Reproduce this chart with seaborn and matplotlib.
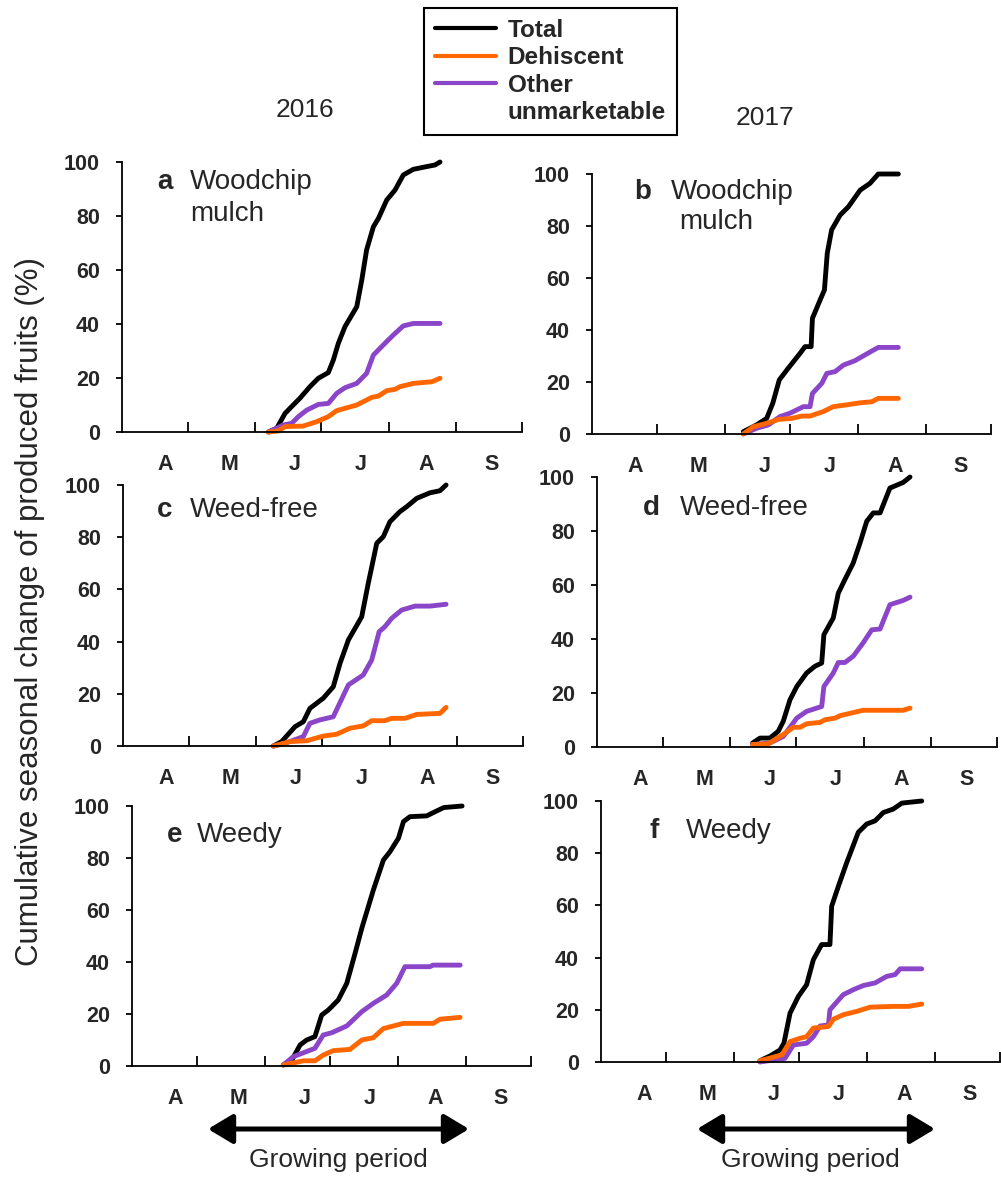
import matplotlib
matplotlib.use("Agg")
import matplotlib.pyplot as plt
from matplotlib.lines import Line2D
from matplotlib.patches import FancyArrowPatch
import pandas as pd
import seaborn as sns

# x = days since 1 April, y = cumulative % of produced fruits
MONTH_LABELS = ['A', 'M', 'J', 'J', 'A', 'S']
MONTH_LABEL_POS = [20, 49, 79, 109, 139, 169]
MONTH_EDGES = [30, 61, 91, 122, 153, 183]
Y_TICKS = [0, 20, 40, 60, 80, 100]
SERIES = ['Total', 'Dehiscent', 'Other unmarketable']
COLORS = {'Total': 'black', 'Dehiscent': '#FF6600', 'Other unmarketable': '#8B45C9'}
YEARS = ['2016', '2017']

# a: 2016 woodchip mulch
a_total = [(67, 0), (70.8, 1.4), (74.6, 6.9), (77.6, 9.4), (81.4, 12.5), (86, 16.8), (89.8, 19.9),
           (94.4, 22), (96.7, 26.7), (99, 32.9), (102, 39), (107.4, 46.4), (109.7, 56.3), (111.9, 67.4),
           (115, 76), (117.3, 79.1), (121.1, 85.9), (124.9, 89.6), (128.7, 95.2), (133.3, 97.3),
           (139.4, 98.3), (143.2, 98.9), (145.5, 100)]
a_dehis = [(67, 0), (71.5, 0.4), (74.6, 2), (82.9, 2.2), (89, 3.8), (94.4, 5.7), (98.2, 7.9),
           (107.4, 10), (114.2, 12.8), (117.3, 13.3), (121.1, 15.3), (124.9, 15.8), (127.2, 16.8),
           (133.3, 18), (141.7, 18.6), (145.5, 19.9)]
a_other = [(67, 0), (73.8, 2.6), (77.6, 3.2), (80.7, 5.7), (84.5, 8.1), (89.8, 10.2), (94.4, 10.6),
           (98.2, 14.3), (102, 16.4), (107.4, 18), (111.9, 21.7), (115, 28.5), (119.5, 32.2),
           (124.1, 35.9), (128.7, 39.3), (133.3, 40.2), (145.5, 40.2)]

# b: 2017 woodchip mulch
b_total = [(69.4, 0.9), (75.5, 3.5), (80.1, 6), (82.9, 11.8), (85.9, 20.8), (90, 25.3), (95.4, 31),
           (97.7, 33.6), (100.5, 33.6), (101.1, 44.5), (104.6, 51.5), (106.6, 55.4), (107.9, 69.5),
           (109.9, 78.5), (113.8, 84.2), (117.6, 87.4), (123, 93.8), (127.5, 96.4), (131.3, 100),
           (140.5, 100)]
b_dehis = [(69.4, 0), (74, 2.8), (80.1, 4.1), (85.5, 5.6), (91.6, 6), (96.2, 6.9), (100, 6.9),
           (106, 8.6), (110.6, 10.5), (116.7, 11.2), (123, 12), (128.3, 12.4), (131.3, 13.7),
           (140.5, 13.7)]
b_other = [(69.4, 0), (75.5, 2.2), (80.9, 3.5), (86.2, 6.7), (90.8, 8), (96.9, 10.5), (100, 10.5),
           (101.1, 15.6), (105.4, 19.5), (107.7, 23.3), (111.5, 24), (115.3, 26.5), (120.6, 28.2),
           (126, 30.8), (131.3, 33.3), (140.5, 33.3)]

# c: 2016 weed-free
c_total = [(68.8, 0), (72.6, 1.7), (78.7, 7.4), (82.5, 9.3), (85.5, 14.4), (91.6, 18.3), (96.2, 22.7),
           (99.3, 31.7), (103.1, 40.6), (109.2, 49.5), (112.2, 62.3), (116.1, 77.7), (119.1, 80.2),
           (122.1, 85.9), (126.7, 89.8), (129.8, 91.7), (134.4, 94.9), (140.4, 97), (145, 97.8),
           (147.8, 100)]
c_dehis = [(68.8, 0), (76.4, 1.7), (84, 2), (91.6, 3.8), (97.7, 4.5), (103.8, 6.8), (109.9, 7.7),
           (113.8, 9.7), (119.8, 9.7), (122.9, 10.6), (129, 10.6), (134.4, 12.1), (145, 12.5),
           (147.8, 14.8)]
c_other = [(68.8, 0), (73.3, 0.8), (82.5, 3.6), (85.5, 8.7), (90.1, 10), (96.2, 11.2), (103.1, 23.4),
           (109.9, 27.2), (113.8, 33), (117.2, 43.8), (119.8, 45.7), (122.9, 48.9), (127.5, 52.1),
           (133.6, 53.6), (140.4, 53.6), (147.8, 54.3)]

# d: 2017 weed-free
d_total = [(71.2, 1.5), (74.6, 3.3), (79.1, 3.3), (82.9, 5.8), (85.2, 9.5), (88.3, 17.5), (91.4, 22.4),
           (95.9, 27.4), (99.7, 29.9), (102.8, 31.1), (103.8, 41.6), (108.1, 47.8), (110.4, 57),
           (113.4, 62), (117.2, 68.1), (120.3, 75.5), (123.4, 83.6), (126.4, 86.7), (129.5, 86.7),
           (134, 95.9), (140.1, 98), (143.2, 100)]
d_dehis = [(71.2, 0.9), (78.4, 1.2), (85.2, 4.6), (89.8, 7.3), (92.9, 7.3), (95.9, 8.6), (102, 9.1),
           (104.3, 10.1), (108.9, 10.7), (111.2, 11.6), (121.7, 13.6), (140.1, 13.6), (143.2, 14.4)]
d_other = [(71.2, 0.9), (79.1, 1.5), (85.2, 3.9), (91.4, 10.7), (95.9, 13.2), (102.8, 15), (103.8, 22.4),
           (108.1, 27.4), (110.4, 31.3), (113.4, 31.3), (117.2, 33.6), (121.7, 38.5), (125.7, 43.4),
           (129.5, 43.7), (134, 52.7), (140.1, 54.3), (143.2, 55.5)]

# e: 2016 weedy
e_total = [(69.4, 0.4), (73.3, 2.3), (77.1, 8.1), (80.1, 10), (83.9, 11.3), (87, 19.6), (90, 21.5),
           (94.6, 25.4), (98.5, 31.8), (102.3, 43.3), (105.4, 53), (110.7, 67.7), (115.3, 79.2),
           (118.3, 82.4), (122.2, 87.6), (124.5, 94), (127.5, 95.9), (135.2, 96.2), (139, 97.8),
           (143, 99.4), (151.4, 100)]
e_dehis = [(69.4, 0.4), (78.6, 2), (83.9, 2), (87.7, 4.2), (92.3, 5.9), (100, 6.4), (105.4, 10),
           (110.7, 10.9), (115.3, 14.4), (124.5, 16.4), (138.2, 16.4), (141.3, 18), (150.5, 18.7)]
e_other = [(69.4, 0.4), (74, 3.6), (83.9, 6.8), (87.7, 11.9), (91.6, 12.8), (98.5, 15.4), (105.4, 20.9),
           (110.7, 24.1), (116.8, 27.3), (121.4, 31.8), (125.2, 38.2), (136.7, 38.2), (138, 38.8),
           (150.5, 38.8)]

# f: 2017 weedy
f_total = [(72.9, 0.5), (77.5, 2.3), (82.1, 4.6), (83.9, 7.2), (86.7, 18.7), (90.5, 25.1), (94.3, 29.6),
           (97.4, 39.2), (101.2, 45), (105, 45), (105.8, 59.7), (108.9, 67.4), (112.7, 76.4), (118, 88),
           (121.9, 91.2), (125.7, 92.4), (129.5, 95.6), (134, 96.9), (138, 99.2), (147.1, 100)]
f_dehis = [(72.9, 0.5), (82.9, 2.7), (86.7, 7.8), (91.3, 9.1), (94.3, 9.7), (97.4, 13), (104.3, 13.6),
           (106.6, 16.4), (111.1, 18.1), (117.3, 19.4), (123.4, 21), (134, 21.3), (141, 21.3),
           (147.1, 22.2)]
f_other = [(72.9, 0), (84.4, 1.4), (88.2, 6.5), (94.3, 7.2), (97.4, 9.7), (100.5, 13.8), (104.3, 14.2),
           (105, 20), (111.1, 25.8), (115.7, 27.7), (120.3, 29.3), (125.7, 30.3), (131, 32.8),
           (134.9, 33.5), (137.2, 35.7), (147.1, 35.7)]

panel_letters = ['a', 'b', 'c', 'd', 'e', 'f']
panel_names = ['Woodchip', 'Woodchip', 'Weed-free', 'Weed-free', 'Weedy', 'Weedy']
panel_data = [(a_total, a_dehis, a_other), (b_total, b_dehis, b_other),
              (c_total, c_dehis, c_other), (d_total, d_dehis, d_other),
              (e_total, e_dehis, e_other), (f_total, f_dehis, f_other)]

W, H = 1001, 1177
# axes rectangles in pixels: left, right, top(100%), bottom(0%)
rects = [(122, 522, 162, 432), (592, 991, 174, 434),
         (123, 523, 485, 746), (597, 997, 477, 747),
         (132, 531, 806, 1066), (601, 1000, 801, 1062)]
# label positions in pixels: letter centre x, name left x, y
label_pos = [(165, 190, 182), (643, 671, 192), (165, 190, 510),
             (651, 680, 508), (175, 197, 835), (654, 686, 831)]

sns.set_style("ticks")
plt.rcParams['font.family'] = ['Liberation Sans', 'DejaVu Sans']

fig = plt.figure(figsize=(W / 100, H / 100), dpi=100)


def fx(px):
    return px / W


def fy(py):
    return 1 - py / H


for i, (l, r, t, b) in enumerate(rects):
    ax = fig.add_axes([fx(l), fy(b), (r - l) / W, (b - t) / H])
    total, dehis, other = panel_data[i]
    for name, pts in [('Total', total), ('Other unmarketable', other), ('Dehiscent', dehis)]:
        df = pd.DataFrame(pts, columns=['day', 'pct'])
        sns.lineplot(data=df, x='day', y='pct', ax=ax, color=COLORS[name], lw=3.5,
                     estimator=None, sort=False, clip_on=False, solid_capstyle='round',
                     solid_joinstyle='round')
    ax.set_xlim(0, 183)
    ax.set_ylim(0, 100)
    ax.set_xlabel('')
    ax.set_ylabel('')
    sns.despine(ax=ax)
    for sp in ['left', 'bottom']:
        ax.spines[sp].set_linewidth(1.3)
        ax.spines[sp].set_color('black')
    ax.set_xticks(MONTH_EDGES)
    ax.set_xticklabels([])
    ax.tick_params(axis='x', which='major', direction='in', length=7, width=1.3, color='black')
    ax.set_xticks(MONTH_LABEL_POS, minor=True)
    ax.set_xticklabels(MONTH_LABELS, minor=True, fontsize=15.5, fontweight='bold')
    ax.tick_params(axis='x', which='minor', length=0, pad=16)
    ax.set_yticks(Y_TICKS)
    ax.set_yticklabels([str(v) for v in Y_TICKS], fontsize=15.5, fontweight='bold')
    ax.tick_params(axis='y', direction='out', length=4, width=1.3, pad=12, color='black')
    ax.patch.set_alpha(0)

    lx, nx, ly = label_pos[i]
    fig.text(fx(lx), fy(ly), panel_letters[i], ha='center', va='center', fontsize=20, fontweight='bold')
    fig.text(fx(nx), fy(ly), panel_names[i], ha='left', va='center', fontsize=20)

# second line of the woodchip labels
fig.text(fx(190), fy(214), 'mulch', ha='left', va='center', fontsize=20)
fig.text(fx(679), fy(222), 'mulch', ha='left', va='center', fontsize=20)

fig.text(fx(305), fy(110), YEARS[0], ha='center', va='center', fontsize=19)
fig.text(fx(765), fy(118), YEARS[1], ha='center', va='center', fontsize=19)

fig.text(fx(30), fy(611), 'Cumulative seasonal change of produced fruits (%)',
         rotation=90, ha='center', va='center', fontsize=22.5)

# legend
handles = [Line2D([], [], color=COLORS[s], lw=3) for s in SERIES[:2]]
handles += [Line2D([], [], color=COLORS['Other unmarketable'], lw=3), Line2D([], [], color='none')]
labels = ['Total', 'Dehiscent', 'Other', 'unmarketable']
leg = fig.legend(handles, labels, loc='upper left', bbox_to_anchor=(fx(424), fy(8)),
                 frameon=True, fancybox=False, edgecolor='black', framealpha=1,
                 prop={'weight': 'bold', 'size': 17.5}, handlelength=2.5, handletextpad=0.5,
                 labelspacing=0.18, borderpad=0.45, borderaxespad=0)
leg.get_frame().set_linewidth(1.5)

# growing period arrows
for x0, x1, xt in [(208, 469, 338), (697, 935, 810)]:
    arr = FancyArrowPatch((fx(x0), fy(1129)), (fx(x1), fy(1129)), transform=fig.transFigure,
                          arrowstyle='<|-|>,head_length=1.0,head_width=0.6', mutation_scale=15,
                          lw=3.6, color='black', shrinkA=0, shrinkB=0)
    fig.add_artist(arr)
    fig.text(fx(xt), fy(1160), 'Growing period', ha='center', va='center', fontsize=19)

fig.savefig('out.png', dpi=100)
